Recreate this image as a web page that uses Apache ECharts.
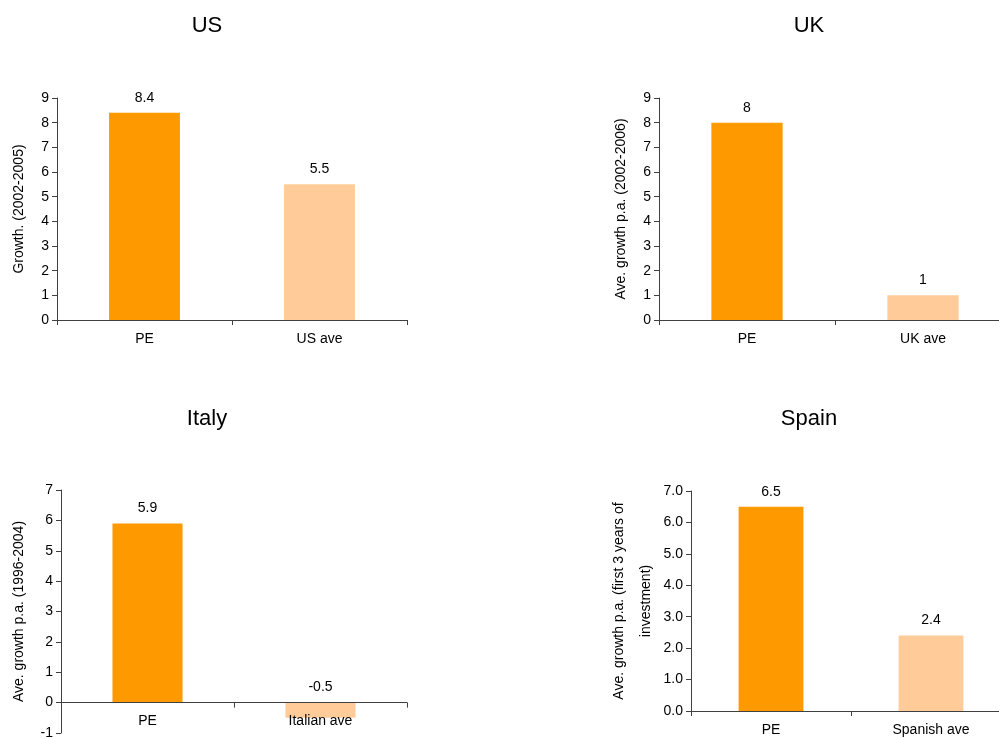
<!DOCTYPE html>
<html>
<head>
<meta charset="utf-8">
<script src="https://cdn.jsdelivr.net/npm/echarts@6/dist/echarts.min.js"></script>
<style>
  html, body { margin: 0; padding: 0; background: #ffffff; }
  #chart { width: 999px; height: 738px; }
</style>
</head>
<body>
<div id="chart"></div>
<script>
// Panel titles
const panelTitles = ['US', 'UK', 'Italy', 'Spain'];

// Categories per panel
const usCategories = ['PE', 'US ave'];
const ukCategories = ['PE', 'UK ave'];
const italyCategories = ['PE', 'Italian ave'];
const spainCategories = ['PE', 'Spanish ave'];

// Growth values per panel
const usValues = [8.4, 5.5];
const ukValues = [8, 1];
const italyValues = [5.9, -0.5];
const spainValues = [6.5, 2.4];

// Y-axis titles
const usAxisName = 'Growth. (2002-2005)';
const ukAxisName = 'Ave. growth p.a. (2002-2006)';
const italyAxisName = 'Ave. growth p.a. (1996-2004)';
const spainAxisName = 'Ave. growth p.a. (first 3 years of\ninvestment)';

// Y-axis ranges [min, max, interval]
const usRange = [0, 9, 1];
const ukRange = [0, 9, 1];
const italyRange = [-1, 7, 1];
const spainRange = [0, 7, 1];

const barColors = ['#FF9900', '#FFCC99'];
const FONT = 'Liberation Sans, Arial, Helvetica, sans-serif';
const AXIS_COLOR = '#404040';

// Category labels stay at the grid bottom, so Italy's are pulled up next to the zero line
const panels = [
  { title: panelTitles[0], cats: usCategories, vals: usValues, name: usAxisName, range: usRange,
    grid: { left: 57, top: 98, width: 350, height: 222 }, titlePos: [207, 15],
    nameGap: 29, nameLH: 17, decimals: false, catMargin: 12 },
  { title: panelTitles[1], cats: ukCategories, vals: ukValues, name: ukAxisName, range: ukRange,
    grid: { left: 659, top: 98, width: 352, height: 222 }, titlePos: [809, 15],
    nameGap: 29, nameLH: 17, decimals: false, catMargin: 12 },
  { title: panelTitles[2], cats: italyCategories, vals: italyValues, name: italyAxisName, range: italyRange,
    grid: { left: 61, top: 490, width: 346, height: 243 }, titlePos: [207, 408],
    nameGap: 33, nameLH: 17, decimals: false, catMargin: -19 },
  { title: panelTitles[3], cats: spainCategories, vals: spainValues, name: spainAxisName, range: spainRange,
    grid: { left: 691, top: 491, width: 320, height: 220 }, titlePos: [809, 408],
    nameGap: 31, nameLH: 27, decimals: true, catMargin: 12 }
];

const option = {
  animation: false,
  backgroundColor: '#ffffff',
  textStyle: { fontFamily: FONT },
  title: panels.map(p => ({
    text: p.title,
    left: p.titlePos[0],
    top: p.titlePos[1],
    padding: 0,
    textAlign: 'center',
    textStyle: { fontFamily: FONT, fontSize: 22, fontWeight: 'normal', color: '#000000' }
  })),
  grid: panels.map(p => Object.assign({ containLabel: false, outerBoundsMode: 'none' }, p.grid)),
  xAxis: panels.map((p, i) => ({
    type: 'category',
    gridIndex: i,
    data: p.cats,
    axisLine: { show: true, onZero: true, lineStyle: { color: AXIS_COLOR, width: 1 } },
    axisTick: { show: true, length: 5, inside: false, lineStyle: { color: AXIS_COLOR } },
    axisLabel: { color: '#000000', fontSize: 14, fontFamily: FONT, margin: p.catMargin },
    splitLine: { show: false },
    z: 5
  })),
  yAxis: panels.map((p, i) => ({
    type: 'value',
    gridIndex: i,
    min: p.range[0],
    max: p.range[1],
    interval: p.range[2],
    name: p.name,
    nameLocation: 'middle',
    nameGap: p.nameGap,
    nameTextStyle: { color: '#000000', fontSize: 14, fontFamily: FONT, lineHeight: p.nameLH },
    axisLine: { show: true, lineStyle: { color: AXIS_COLOR, width: 1 } },
    axisTick: { show: true, length: 5, inside: false, lineStyle: { color: AXIS_COLOR } },
    axisLabel: {
      color: '#000000', fontSize: 14, fontFamily: FONT, margin: 8,
      formatter: v => p.decimals ? v.toFixed(1) : String(v)
    },
    splitLine: { show: false }
  })),
  series: panels.map((p, i) => ({
    type: 'bar',
    xAxisIndex: i,
    yAxisIndex: i,
    barWidth: '40.5%',
    z: 2,
    data: p.vals.map((v, j) => ({ value: v, itemStyle: { color: barColors[j] } })),
    label: {
      show: true,
      position: 'top',
      distance: 8,
      color: '#000000',
      fontSize: 14,
      fontFamily: FONT
    }
  }))
};

const chart = echarts.init(document.getElementById('chart'), null, { renderer: 'canvas' });
chart.setOption(option);
</script>
</body>
</html>
